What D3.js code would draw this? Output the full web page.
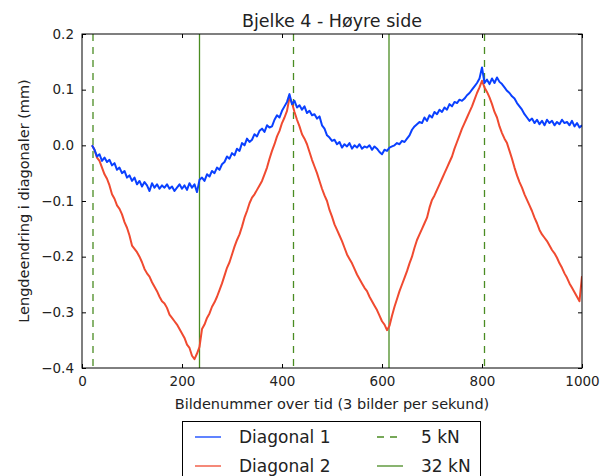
<!DOCTYPE html>
<html><head><meta charset="utf-8">
<script src="https://cdn.jsdelivr.net/npm/d3@7"></script>
<style>body{margin:0;background:#fff;} svg{display:block;}</style>
</head><body><svg id="c" width="606" height="476"></svg>
<script>
const title = "Bjelke 4 - Høyre side";
const xLabel = "Bildenummer over tid (3 bilder per sekund)";
const yLabel = "Lengdeendring i diagonaler (mm)";
const xTicks = [0,200,400,600,800,1000];
const yTicks = [-0.4,-0.3,-0.2,-0.1,0.0,0.1,0.2];
const frameStart = 20, frameStep = 5;
const diagonal1 = [0.000,-0.008,-0.020,-0.016,-0.028,-0.022,-0.030,-0.026,-0.036,-0.032,
-0.044,-0.040,-0.050,-0.046,-0.058,-0.054,-0.064,-0.058,-0.070,-0.064,
-0.074,-0.066,-0.072,-0.082,-0.068,-0.076,-0.070,-0.078,-0.072,-0.076,
-0.070,-0.078,-0.074,-0.082,-0.076,-0.070,-0.078,-0.072,-0.080,-0.068,
-0.076,-0.070,-0.084,-0.062,-0.058,-0.064,-0.052,-0.056,-0.046,-0.050,
-0.040,-0.044,-0.034,-0.030,-0.020,-0.024,-0.014,-0.018,-0.006,-0.010,
0.004,0.000,0.012,0.006,0.010,0.020,0.016,0.026,0.030,0.024,
0.036,0.032,0.034,0.046,0.054,0.050,0.062,0.070,0.078,0.092,
0.074,0.080,0.068,0.072,0.064,0.070,0.058,0.062,0.054,0.056,
0.048,0.052,0.036,0.030,0.018,0.014,0.008,0.010,0.002,0.006,
-0.004,0.002,-0.002,0.004,-0.006,0.000,-0.004,0.002,-0.006,-0.002,
-0.004,0.000,-0.008,-0.002,-0.006,-0.012,-0.016,-0.008,-0.010,-0.004,
-0.002,0.000,0.004,0.002,0.008,0.006,0.012,0.018,0.028,0.034,
0.038,0.042,0.040,0.050,0.044,0.054,0.050,0.060,0.056,0.064,
0.060,0.068,0.064,0.074,0.070,0.078,0.076,0.082,0.080,0.084,
0.090,0.094,0.100,0.106,0.112,0.120,0.140,0.112,0.118,0.110,
0.120,0.112,0.122,0.114,0.110,0.104,0.098,0.094,0.088,0.084,
0.076,0.070,0.064,0.056,0.050,0.044,0.048,0.040,0.046,0.038,
0.044,0.036,0.046,0.040,0.044,0.036,0.042,0.038,0.046,0.040,
0.042,0.036,0.044,0.034,0.040,0.032,0.036];
const diagonal2 = [0.000,-0.008,-0.022,-0.028,-0.040,-0.052,-0.060,-0.072,-0.088,-0.096,
-0.108,-0.114,-0.124,-0.138,-0.148,-0.162,-0.180,-0.186,-0.192,-0.200,
-0.210,-0.222,-0.230,-0.236,-0.246,-0.254,-0.262,-0.272,-0.280,-0.284,
-0.292,-0.304,-0.310,-0.316,-0.322,-0.330,-0.338,-0.346,-0.358,-0.364,
-0.378,-0.384,-0.374,-0.362,-0.330,-0.322,-0.310,-0.302,-0.290,-0.282,
-0.272,-0.260,-0.248,-0.234,-0.220,-0.210,-0.196,-0.182,-0.170,-0.160,
-0.146,-0.130,-0.118,-0.104,-0.094,-0.088,-0.080,-0.072,-0.064,-0.052,
-0.040,-0.024,-0.010,0.002,0.016,0.026,0.040,0.050,0.062,0.086,
0.076,0.060,0.046,0.034,0.020,0.012,0.002,-0.012,-0.026,-0.038,
-0.050,-0.064,-0.078,-0.090,-0.100,-0.116,-0.128,-0.142,-0.152,-0.162,
-0.172,-0.184,-0.196,-0.204,-0.212,-0.222,-0.232,-0.240,-0.248,-0.256,
-0.262,-0.272,-0.280,-0.288,-0.296,-0.306,-0.316,-0.322,-0.332,-0.324,
-0.306,-0.290,-0.276,-0.262,-0.250,-0.238,-0.226,-0.212,-0.200,-0.184,
-0.170,-0.160,-0.150,-0.140,-0.130,-0.112,-0.098,-0.090,-0.080,-0.070,
-0.060,-0.050,-0.040,-0.030,-0.020,-0.006,0.006,0.018,0.030,0.040,
0.050,0.060,0.070,0.082,0.094,0.104,0.116,0.104,0.096,0.086,
0.074,0.060,0.050,0.034,0.022,0.012,0.004,-0.010,-0.024,-0.040,
-0.054,-0.066,-0.076,-0.088,-0.098,-0.108,-0.118,-0.130,-0.140,-0.152,
-0.160,-0.166,-0.172,-0.180,-0.188,-0.194,-0.202,-0.212,-0.220,-0.230,
-0.238,-0.248,-0.256,-0.264,-0.272,-0.280,-0.235];
const load5kN = [22, 423, 805];
const load32kN = [235, 614];
const seriesNames = ["Diagonal 1","Diagonal 2"];
const loadNames = ["5 kN","32 kN"];

const colBlue = "#0a40ff", colRed = "#f04a30", colGreen = "#4a8c22";
const font = "DejaVu Sans, sans-serif";
const svg = d3.select("#c");
const L = 82, R = 582, T = 34, B = 368;
const x = d3.scaleLinear().domain([0,1000]).range([L,R]);
const y = d3.scaleLinear().domain([-0.4,0.2]).range([B,T]);
const fmtY = v => d3.format(".1f")(v).replace("-", "\u2212");

const g = svg.append("g");
g.append("defs").append("clipPath").attr("id","clip").append("rect")
  .attr("x",L).attr("y",T).attr("width",R-L).attr("height",B-T);
const plot = g.append("g").attr("clip-path","url(#clip)");

load5kN.forEach(f => plot.append("line").attr("x1",x(f)).attr("x2",x(f)).attr("y1",T).attr("y2",B)
  .attr("stroke",colGreen).attr("stroke-width",1.3).attr("stroke-dasharray","7,6"));
load32kN.forEach(f => plot.append("line").attr("x1",x(f)).attr("x2",x(f)).attr("y1",T).attr("y2",B)
  .attr("stroke",colGreen).attr("stroke-width",1.3));

const line = d3.line().x((d,i) => x(frameStart + i*frameStep)).y(d => y(d));
plot.append("path").datum(diagonal2).attr("d",line).attr("fill","none").attr("stroke",colRed).attr("stroke-width",2).attr("stroke-linejoin","round");
plot.append("path").datum(diagonal1).attr("d",line).attr("fill","none").attr("stroke",colBlue).attr("stroke-width",2).attr("stroke-linejoin","round");

// axes with inward ticks
const axB = d3.axisBottom(x).tickValues(xTicks).tickSizeInner(-4).tickSizeOuter(0).tickPadding(8).tickFormat(d3.format("d"));
const axT = d3.axisTop(x).tickValues(xTicks).tickSizeInner(-4).tickSizeOuter(0).tickFormat("");
const axLft = d3.axisLeft(y).tickValues(yTicks).tickSizeInner(-4).tickSizeOuter(0).tickPadding(8).tickFormat(fmtY);
const axRt = d3.axisRight(y).tickValues(yTicks).tickSizeInner(-4).tickSizeOuter(0).tickFormat("");
function style(sel){ sel.select(".domain").remove(); sel.selectAll(".tick line").attr("stroke","#000");
  sel.selectAll("text").attr("font-family",font).attr("font-size",13.5).attr("fill","#222"); }
g.append("g").attr("transform",`translate(0,${B})`).call(axB).call(style);
g.append("g").attr("transform",`translate(0,${T})`).call(axT).call(style);
g.append("g").attr("transform",`translate(${L},0)`).call(axLft).call(style);
g.append("g").attr("transform",`translate(${R},0)`).call(axRt).call(style);
g.append("rect").attr("x",L).attr("y",T).attr("width",R-L).attr("height",B-T).attr("fill","none").attr("stroke","#000").attr("stroke-width",1);

svg.append("text").attr("x",(L+R)/2).attr("y",27).attr("text-anchor","middle").attr("font-family",font).attr("font-size",17.5).attr("fill","#222").text(title);
svg.append("text").attr("x",(L+R)/2).attr("y",409).attr("text-anchor","middle").attr("font-family",font).attr("font-size",14.5).attr("fill","#222").text(xLabel);
svg.append("text").attr("transform",`translate(29,${(T+B)/2}) rotate(-90)`).attr("text-anchor","middle").attr("font-family",font).attr("font-size",14.5).attr("fill","#222").text(yLabel);

// legend
const lg = svg.append("g");
lg.append("rect").attr("x",182.5).attr("y",421.5).attr("width",298).attr("height",70).attr("fill","#fff").attr("stroke","#000");
const items = [
  {name:seriesNames[0], col:colBlue, dash:null, cx:195, ty:437},
  {name:seriesNames[1], col:colRed, dash:null, cx:195, ty:466},
  {name:loadNames[0], col:colGreen, dash:"7,6", cx:377, ty:437},
  {name:loadNames[1], col:colGreen, dash:null, cx:377, ty:466}];
items.forEach(it => {
  lg.append("line").attr("x1",it.cx).attr("x2",it.cx+26).attr("y1",it.ty).attr("y2",it.ty)
    .attr("stroke",it.col).attr("stroke-width",1.3).attr("stroke-dasharray",it.dash);
  lg.append("text").attr("x",it.cx+44).attr("y",it.ty).attr("dy","0.35em").attr("font-family",font).attr("font-size",17).attr("fill","#222").text(it.name);
});
</script></body></html>
